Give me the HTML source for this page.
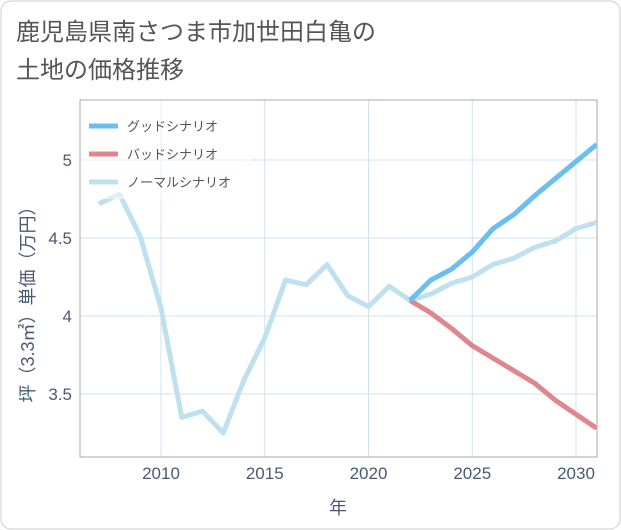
<!DOCTYPE html>
<html><head><meta charset="utf-8"><style>
body{margin:0;background:#fff;}
svg{display:block;font-family:"Liberation Sans","Noto Sans CJK JP",sans-serif;}
</style></head><body>
<svg id="c" width="621" height="530">
<rect x="1" y="1" width="619" height="528" rx="10" fill="#fff" stroke="#ccc"/>
<text x="16" y="40" font-size="24" fill="#555">鹿児島県南さつま市加世田白亀の</text>
<text x="16" y="78" font-size="24" fill="#555">土地の価格推移</text>
<g id="grid"></g>
<rect x="80" y="100" width="517" height="357" fill="none" stroke="#aaa" stroke-width="1"/>
<g id="series"></g>
<g id="legend">
<rect x="81" y="101" width="170" height="98" fill="#fff" fill-opacity="0.5"/>
</g>
<text transform="translate(34,300) rotate(-90)" text-anchor="middle" font-size="18" fill="#4a5a70">坪（3.3㎡）単価（万円）</text>
<text x="338" y="514" text-anchor="middle" font-size="18" fill="#4a5a70">年</text>
</svg>
<script>
const histYears=[2007,2008,2009,2010,2011,2012,2013,2014,2015,2016,2017,2018,2019,2020,2021,2022];
const histValues=[4.72,4.78,4.51,4.05,3.35,3.39,3.25,3.59,3.86,4.23,4.20,4.33,4.13,4.06,4.19,4.10];
const futYears=[2022,2023,2024,2025,2026,2027,2028,2029,2030,2031];
const goodValues=[4.10,4.23,4.30,4.41,4.56,4.65,4.77,4.88,4.99,5.10];
const badValues=[4.10,4.02,3.92,3.81,3.73,3.65,3.57,3.46,3.37,3.28];
const normalValues=[4.10,4.14,4.21,4.25,4.33,4.37,4.44,4.48,4.56,4.60];
const xTicks=[2010,2015,2020,2025,2030];
const yTicks=[3.5,4,4.5,5];
const yTickLabels=["3.5","4","4.5","5"];
const NS="http://www.w3.org/2000/svg";
const X=y=>161+(y-2010)*20.75;
const Y=v=>160+(5-v)*156;
function mk(t,a,p){const e=document.createElementNS(NS,t);for(const k in a)e.setAttribute(k,a[k]);p.appendChild(e);return e;}
const grid=document.getElementById('grid');
xTicks.forEach(t=>{
 const l=mk('line',{x1:X(t),x2:X(t),y1:100,y2:457,stroke:'#cfe3ee'},grid);
 
 
 const s=mk('text',{x:X(t),y:479,'text-anchor':'middle','font-size':17,fill:'#4a5a70'},grid);
 s.textContent=t;
 
 
});
yTicks.forEach((t,i)=>{
 const l=mk('line',{x1:80,x2:597,y1:Y(t),y2:Y(t),stroke:'#cfe3ee'},grid);
 
 
 const s=mk('text',{x:72,y:Y(t)+6,'text-anchor':'end','font-size':17,fill:'#4a5a70'},grid);
 s.textContent=yTickLabels[i];
 
 
});
const ser=document.getElementById('series');
function line(xs,vs,c,name){
 const p=mk('polyline',{points:xs.map((x,i)=>X(x)+','+Y(vs[i])).join(' '),fill:'none',stroke:c,'stroke-width':5,'stroke-linejoin':'round'},ser);
 
 
}
line(histYears,histValues,'#bfe0ee','normal-history-line');
line(futYears,normalValues,'#bfe0ee','normal-scenario-line');
line(futYears,badValues,'#e0868e','bad-scenario-line');
line(futYears,goodValues,'#6bbef2','good-scenario-line');
const cp=mk('clipPath',{id:'cl'},document.getElementById('c'));
mk('rect',{x:80,y:100,width:517,height:357},cp);
ser.setAttribute('clip-path','url(#cl)');
const lg=document.getElementById('legend');
[['グッドシナリオ','#6bbef2'],['バッドシナリオ','#e0868e'],['ノーマルシナリオ','#bfe0ee']].forEach((d,i)=>{
 const y=126+i*28;
 const l=mk('line',{x1:89,x2:118,y1:y,y2:y,stroke:d[1],'stroke-width':5},lg);
 
 
 const t=mk('text',{x:127,y:y+5,'font-size':13,fill:'#555'},lg);
 t.textContent=d[0];
 
 
});
</script>
</body></html>
